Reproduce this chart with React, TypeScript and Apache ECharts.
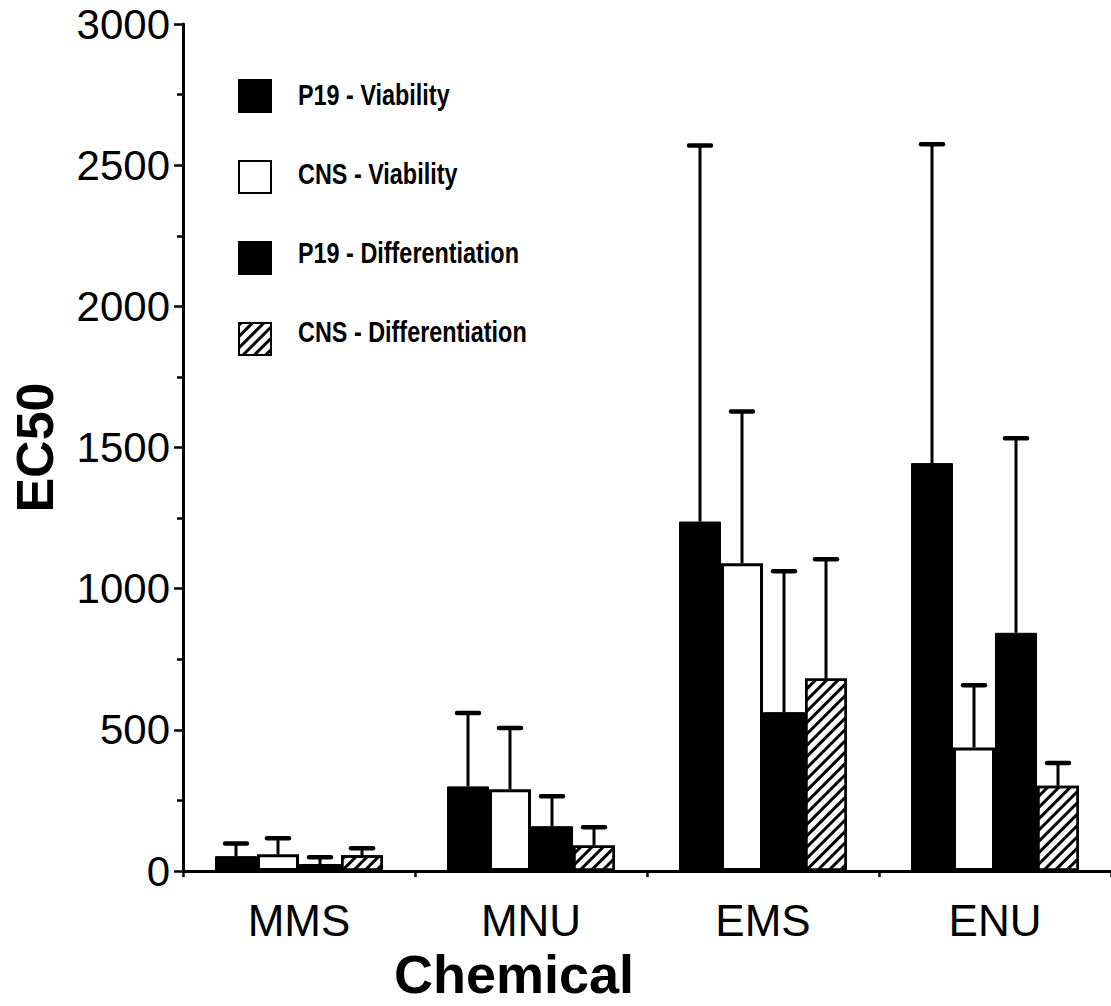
import React, { useEffect, useRef } from "react";
import * as echarts from "echarts";

const categories = ["MMS", "MNU", "EMS", "ENU"];
const seriesNames = [
  "P19 - Viability",
  "CNS - Viability",
  "P19 - Differentiation",
  "CNS - Differentiation",
];
const p19Viability = [53, 300, 1238, 1445];
const cnsViability = [60, 290, 1090, 438];
const p19Differentiation = [25, 159, 563, 844];
const cnsDifferentiation = [56, 91, 682, 302];
const p19ViabilitySD = [45, 260, 1332, 1129];
const cnsViabilitySD = [56, 217, 538, 220];
const p19DifferentiationSD = [24, 106, 499, 689];
const cnsDifferentiationSD = [25, 64, 422, 81];
const yMin = 0;
const yMax = 3000;
const yInterval = 500;

const BAR_W = 42;
const SANS = "'Liberation Sans', Arial, Helvetica, sans-serif";

// legend layout
const LEG_LEFT = 238;
const LEG_TOP = 79;
const LEG_ICON = 32;
const LEG_GAP = 47;

export default function App() {
  const ref = useRef<HTMLDivElement>(null);
  useEffect(() => {
    if (!ref.current) return;
    const chart = echarts.init(ref.current, null, { renderer: "svg" });
    const means = [p19Viability, cnsViability, p19Differentiation, cnsDifferentiation];
    const sds = [p19ViabilitySD, cnsViabilitySD, p19DifferentiationSD, cnsDifferentiationSD];
    const errData: number[][] = [];
    means.forEach((arr, s) =>
      arr.forEach((m, c) => errData.push([c, m, m + sds[s][c], s]))
    );
    const styles = [
      { color: "#000", borderColor: "#000", borderWidth: 1 },
      { color: "#fff", borderColor: "#000", borderWidth: 3 },
      { color: "#000", borderColor: "#000", borderWidth: 1 },
      {
        color: "#fff",
        borderColor: "#000",
        borderWidth: 2.5,
        decal: {
          symbol: "rect",
          symbolSize: 1,
          dashArrayX: [1, 0],
          dashArrayY: [3, 5],
          rotation: -Math.PI / 4,
          color: "#000",
        },
      },
    ];
    const legendTexts = seriesNames.map((name, i) => ({
      type: "text",
      x: LEG_LEFT + LEG_ICON + 28,
      y: LEG_TOP + LEG_ICON / 2 + i * (LEG_ICON + LEG_GAP),
      scaleX: 0.78,
      style: {
        text: name,
        fontFamily: SANS,
        fontSize: 30,
        fontWeight: "bold",
        fill: "#000",
        verticalAlign: "middle",
        align: "left",
      },
    }));
    chart.setOption({
      animation: false,
      backgroundColor: "#fff",
      grid: { left: 183, right: -4, top: 24, bottom: 129, containLabel: false },
      legend: {
        orient: "vertical",
        left: LEG_LEFT,
        top: LEG_TOP,
        padding: 0,
        itemWidth: LEG_ICON,
        itemHeight: LEG_ICON,
        itemGap: LEG_GAP,
        icon: "rect",
        selectedMode: false,
        data: seriesNames,
        formatter: () => " ",
        textStyle: { fontSize: 10, color: "#000" },
      },
      graphic: legendTexts,
      xAxis: {
        type: "category",
        data: categories,
        name: "Chemical",
        nameLocation: "middle",
        nameGap: 75,
        nameTextStyle: {
          fontFamily: SANS,
          fontSize: 54,
          fontWeight: "bold",
          color: "#000",
          padding: [0, 266, 0, 0],
        },
        axisLine: { lineStyle: { color: "#000", width: 3 } },
        axisTick: { show: true, interval: 0, length: 6, lineStyle: { color: "#000", width: 2.5 } },
        axisLabel: { fontFamily: SANS, fontSize: 44, color: "#000", margin: 27, interval: 0 },
        splitLine: { show: false },
      },
      yAxis: {
        type: "value",
        min: yMin,
        max: yMax,
        interval: yInterval,
        name: "EC50",
        nameLocation: "middle",
        nameGap: 122,
        nameRotate: 90,
        nameTextStyle: { fontFamily: SANS, fontSize: 52, fontWeight: "bold", color: "#000" },
        axisLine: { show: true, lineStyle: { color: "#000", width: 3 } },
        axisTick: { show: true, length: 9, lineStyle: { color: "#000", width: 2.5 } },
        minorTick: { show: true, splitNumber: 2, length: 6, lineStyle: { color: "#000", width: 2.5 } },
        axisLabel: {
          fontFamily: SANS,
          fontSize: 42,
          color: "#000",
          margin: 13,
          formatter: (v: number) => String(v),
        },
        splitLine: { show: false },
      },
      series: [
        ...seriesNames.map((name, i) => ({
          name,
          type: "bar",
          data: means[i],
          barWidth: BAR_W,
          barGap: "0%",
          itemStyle: styles[i],
        })),
        {
          type: "custom",
          name: "err",
          data: errData,
          encode: { x: 0, y: [1, 2] },
          z: 5,
          renderItem: (params: any, api: any) => {
            const cat = api.value(0);
            const mean = api.value(1);
            const upper = api.value(2);
            const s = api.value(3);
            const c = api.coord([cat, mean]);
            const t = api.coord([cat, upper]);
            const x = c[0] + (s - 1.5) * BAR_W;
            return {
              type: "group",
              children: [
                {
                  type: "line",
                  shape: { x1: x, y1: c[1], x2: x, y2: t[1] },
                  style: { stroke: "#000", lineWidth: 3 },
                },
                {
                  type: "line",
                  shape: { x1: x - 11, y1: t[1], x2: x + 11, y2: t[1] },
                  style: { stroke: "#000", lineWidth: 4.5, lineCap: "round" },
                },
              ],
            };
          },
        },
      ],
    });
    return () => chart.dispose();
  }, []);
  return (
    <div
      ref={ref}
      style={{ position: "fixed", left: 0, top: 0, width: 1111, height: 1006, background: "#fff" }}
    />
  );
}
